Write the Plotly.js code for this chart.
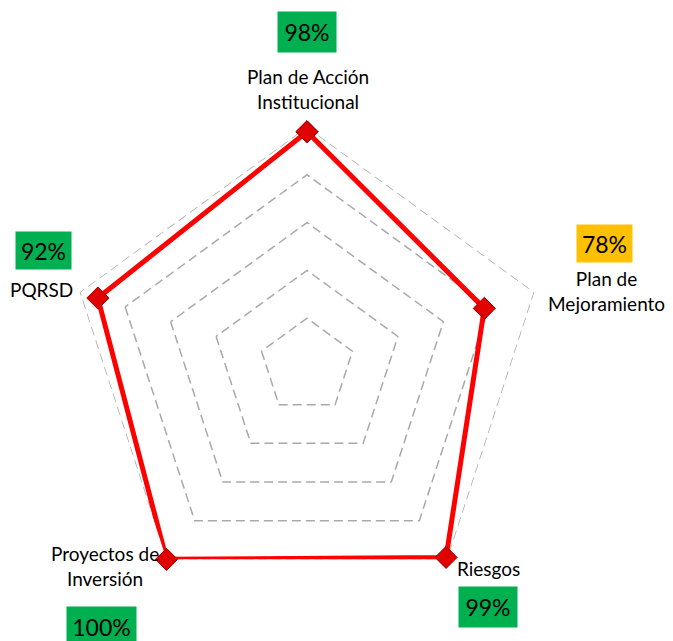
<!DOCTYPE html>
<html>
<head>
<meta charset="utf-8">
<script src="https://cdn.plot.ly/plotly-3.0.1.min.js"></script>
<style>html,body{margin:0;padding:0;background:#fff;}#chart{width:673px;height:641px;}</style>
</head>
<body>
<div id="chart"></div>
<script>
// Data
const categories = ["Plan de Acción Institucional", "Plan de Mejoramiento", "Riesgos", "Proyectos de Inversión", "PQRSD"];
const labelLines = ["Plan de Acción<br>Institucional", "Plan de<br>Mejoramiento", "Riesgos", "Proyectos de<br>Inversión", "PQRSD"];
const values = [98, 78, 99, 100, 92];
const boxColors = ["#00b050", "#ffc000", "#00b050", "#00b050", "#00b050"];
const radialTicks = [20, 40, 60, 80, 100];

// Layout positions (pixels) for category labels and value boxes
const W = 673, H = 641;
const labelPos = [[308, 89], [606, 291], [488, 568], [105, 566], [41, 290]];
const boxPos = [[307, 32, 58, 40], [604, 243, 55, 37], [488, 607, 58, 40], [102, 627, 69, 40], [43, 251, 55, 37]];

const rClosed = values.concat([values[0]]);
const thClosed = categories.concat([categories[0]]);
const outerMax = radialTicks[radialTicks.length - 1];
const gridColor = "#a9a9a9";
const gridDash = "9px,5px";

const outerRing = {
  type: "scatterpolar",
  r: thClosed.map(() => outerMax),
  theta: thClosed,
  mode: "lines",
  line: {color: gridColor, width: 1.5, dash: gridDash},
  hoverinfo: "skip",
  showlegend: false
};

const trace = {
  type: "scatterpolar",
  r: rClosed,
  theta: thClosed,
  mode: "lines+markers",
  line: {color: "#ff0000", width: 5},
  marker: {symbol: "diamond", size: 17, color: "#e00000", line: {color: "#9a0000", width: 1}},
  hoverinfo: "skip",
  showlegend: false
};

const annotations = [];
categories.forEach((c, i) => {
  annotations.push({
    xref: "paper", yref: "paper",
    x: labelPos[i][0] / W, y: 1 - labelPos[i][1] / H,
    xanchor: "center", yanchor: "middle",
    text: labelLines[i], showarrow: false,
    font: {family: "Lato, 'Open Sans', sans-serif", size: 19, color: "#000"},
    align: "center"
  });
  annotations.push({
    xref: "paper", yref: "paper",
    x: boxPos[i][0] / W, y: 1 - boxPos[i][1] / H,
    xanchor: "center", yanchor: "middle",
    text: values[i] + "%", showarrow: false,
    width: boxPos[i][2], height: boxPos[i][3],
    bgcolor: boxColors[i], borderpad: 0,
    font: {family: "Lato, 'Open Sans', sans-serif", size: 23, color: "#000"}
  });
});

const layout = {
  width: W, height: H,
  margin: {l: 0, r: 0, t: 0, b: 0},
  paper_bgcolor: "#fff",
  plot_bgcolor: "#fff",
  showlegend: false,
  polar: {
    domain: {x: [68 / W, 546 / W], y: [1 - 605 / H, 1 - 127 / H]},
    bgcolor: "#fff",
    gridshape: "linear",
    radialaxis: {
      range: [0, 100],
      tickvals: radialTicks,
      showticklabels: false,
      ticks: "",
      showline: false,
      showgrid: true,
      gridcolor: gridColor,
      gridwidth: 1.5,
      griddash: gridDash
    },
    angularaxis: {
      direction: "clockwise",
      rotation: 90,
      showgrid: false,
      showline: false,
      showticklabels: false,
      ticks: ""
    }
  },
  annotations: annotations
};

Plotly.newPlot("chart", [outerRing, trace], layout, {displayModeBar: false, staticPlot: true});
</script>
</body>
</html>
